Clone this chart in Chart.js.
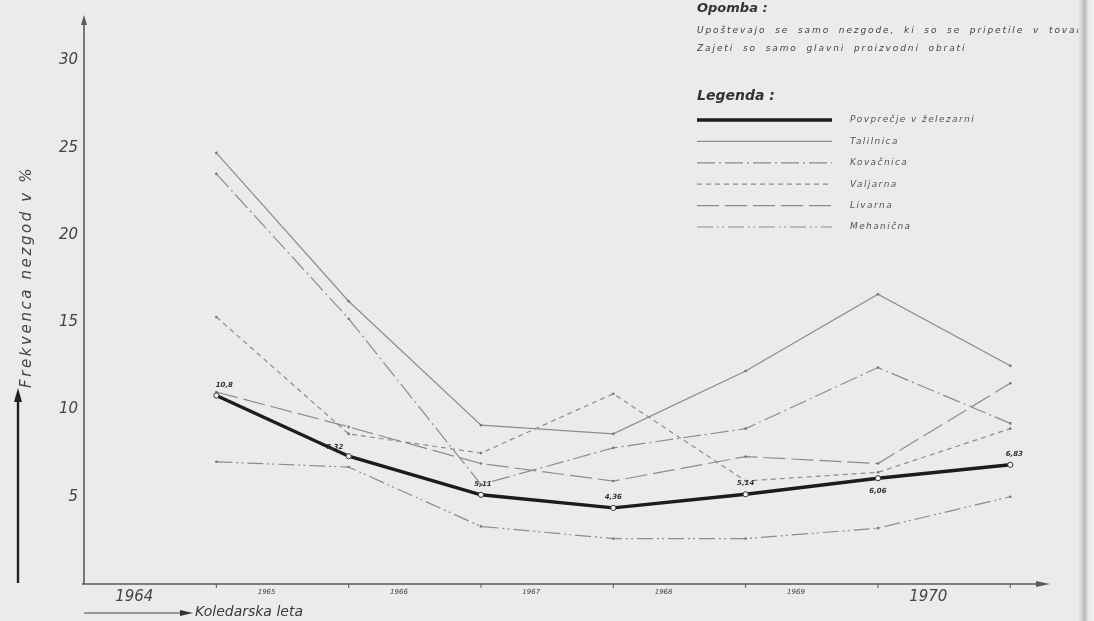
<!DOCTYPE html>
<html><head><meta charset="utf-8">
<script src="https://cdn.jsdelivr.net/npm/chart.js@4.4.1/dist/chart.umd.min.js"></script>
<style>
html,body{margin:0;padding:0;background:#ebebe9;}
#wrap{position:relative;width:1094px;height:621px;overflow:hidden;background:#ebebe9;}
canvas{position:absolute;left:0;top:0;}
.t{position:absolute;font-family:"DejaVu Sans",sans-serif;font-style:italic;color:#444;white-space:nowrap;}
#edge{position:absolute;left:1078px;top:0;width:16px;height:621px;background:linear-gradient(to right,#ebebe9 0px,#d0d0ce 4px,#b8b8b6 7px,#e6e6e4 10px,#f3f3f1 16px);}
</style></head><body>
<div id="wrap"><canvas id="c" width="1094" height="621"></canvas>
<div class="t" style="left:697px;top:0px;font-size:13px;font-weight:bold;color:#333;">Opomba :</div>
<div class="t" style="left:697px;top:25px;font-size:9px;letter-spacing:1.9px;word-spacing:4px;">Upoštevajo se samo nezgode, ki so se pripetile v tovarni</div>
<div class="t" style="left:697px;top:43px;font-size:9px;letter-spacing:1.9px;word-spacing:4px;">Zajeti so samo glavni proizvodni obrati</div>
<div class="t" style="left:697px;top:87px;font-size:14px;font-weight:bold;color:#333;">Legenda :</div>
<div id="edge"></div>
</div>
<script>
// ---- data ----
const YEARS = ['1964','1965','1966','1967','1968','1969','1970'];
const YEAR_VALUES = [1964,1965,1966,1967,1968,1969,1970];
const Y_TICKS = [5,10,15,20,25,30];
const SERIES_NAMES = ['Povprečje v železarni','Talilnica','Kovačnica','Valjarna','Livarna','Mehanična'];
const povprecje = [10.8, 7.32, 5.11, 4.36, 5.14, 6.06, 6.83];
const talilnica = [24.7, 16.2, 9.1, 8.6, 12.2, 16.6, 12.5];
const kovacnica = [23.5, 15.2, 5.7, 7.8, 8.9, 12.4, 9.2];
const valjarna  = [15.3, 8.6, 7.5, 10.9, 5.9, 6.4, 8.9];
const livarna   = [11.0, 9.0, 6.9, 5.9, 7.3, 6.9, 11.5];
const mehanicna = [7.0, 6.7, 3.3, 2.6, 2.6, 3.2, 5.0];
const AVG_LABELS = ['10,8','7,32','5,11','4,36','5,14','6,06','6,83'];

const FONT = '"DejaVu Sans", sans-serif';
const GRAY = '#8c8c8c';
const toPts = arr => arr.map((v,i)=>({x:YEAR_VALUES[i], y:v}));

function thin(label, data, dash){
  return {label, data: toPts(data), borderColor: GRAY, borderWidth: 1.2, borderDash: dash,
    pointRadius: 1.3, pointBackgroundColor: '#777', pointBorderWidth: 0, tension: 0, fill:false};
}

const datasets = [
  {label: SERIES_NAMES[0], data: toPts(povprecje), borderColor:'#1c1c1c', borderWidth:3.4, borderDash:[],
   pointRadius:2.6, pointBackgroundColor:'#f4f4f2', pointBorderColor:'#333', pointBorderWidth:1, tension:0, fill:false, order:0},
  thin(SERIES_NAMES[1], talilnica, []),
  thin(SERIES_NAMES[2], kovacnica, [18,4,2,4]),
  thin(SERIES_NAMES[3], valjarna, [5,4]),
  thin(SERIES_NAMES[4], livarna, [22,6]),
  thin(SERIES_NAMES[5], mehanicna, [16,4,2,3,2,4])
];

const LABEL_OFFSETS = [[8,-10],[-14,-9],[2,-11],[0,-11],[0,-11],[0,13],[4,-11]];

const decor = {
  id:'decor',
  beforeDatasetsDraw(chart){
    const {ctx, chartArea:a, scales:{x}} = chart;
    ctx.save();
    ctx.strokeStyle='#5a5a5a'; ctx.fillStyle='#5a5a5a'; ctx.lineWidth=1.6;
    // y axis
    ctx.beginPath(); ctx.moveTo(a.left, a.bottom); ctx.lineTo(a.left, a.top+6); ctx.stroke();
    ctx.beginPath(); ctx.moveTo(a.left, a.top); ctx.lineTo(a.left-3, a.top+10); ctx.lineTo(a.left+3, a.top+10); ctx.closePath(); ctx.fill();
    // x axis
    ctx.beginPath(); ctx.moveTo(a.left-2, a.bottom); ctx.lineTo(a.right-8, a.bottom); ctx.stroke();
    ctx.beginPath(); ctx.moveTo(a.right, a.bottom); ctx.lineTo(a.right-14, a.bottom-3); ctx.lineTo(a.right-14, a.bottom+3); ctx.closePath(); ctx.fill();
    // year-end tick marks
    ctx.lineWidth=1;
    YEAR_VALUES.forEach(v=>{const px=x.getPixelForValue(v); ctx.beginPath(); ctx.moveTo(px,a.bottom); ctx.lineTo(px,a.bottom+4); ctx.stroke();});
    // y title arrow
    ctx.lineWidth=2.4; ctx.strokeStyle='#222'; ctx.fillStyle='#222';
    ctx.beginPath(); ctx.moveTo(18, 583); ctx.lineTo(18, 400); ctx.stroke();
    ctx.beginPath(); ctx.moveTo(18, 388); ctx.lineTo(14, 402); ctx.lineTo(22, 402); ctx.closePath(); ctx.fill();
    // y title
    ctx.save(); ctx.translate(27, 277); ctx.rotate(-Math.PI/2);
    ctx.font = 'italic 15px '+FONT; ctx.fillStyle='#444'; ctx.textAlign='center'; ctx.textBaseline='middle';
    if (ctx.letterSpacing !== undefined) ctx.letterSpacing='2.6px';
    ctx.fillText('Frekvenca nezgod v %', 0, 0); ctx.restore();
    // x title arrow
    ctx.lineWidth=1.2; ctx.strokeStyle='#444'; ctx.fillStyle='#333';
    ctx.beginPath(); ctx.moveTo(84, 613); ctx.lineTo(184, 613); ctx.stroke();
    ctx.beginPath(); ctx.moveTo(193, 613); ctx.lineTo(180, 610); ctx.lineTo(180, 616); ctx.closePath(); ctx.fill();
    ctx.font = 'italic 14px '+FONT; ctx.fillStyle='#3a3a3a'; ctx.textAlign='left'; ctx.textBaseline='middle';
    ctx.fillText('Koledarska leta', 195, 612);
    ctx.restore();
  },
  afterDatasetsDraw(chart){
    const {ctx} = chart;
    ctx.save();
    // labels on the average line
    const meta = chart.getDatasetMeta(0);
    ctx.font = 'italic bold 7px '+FONT; ctx.fillStyle='#333'; ctx.textAlign='center'; ctx.textBaseline='middle';
    meta.data.forEach((pt,i)=>{ const o=LABEL_OFFSETS[i]; ctx.fillText(AVG_LABELS[i], pt.x+o[0], pt.y+o[1]); });
    // legend
    const x0=697, x1=832, yStart=120, step=21.4;
    chart.data.datasets.forEach((ds,i)=>{
      const yy = yStart + i*step;
      ctx.save();
      ctx.strokeStyle = ds.borderColor; ctx.lineWidth = ds.borderWidth; ctx.setLineDash(ds.borderDash||[]);
      ctx.beginPath(); ctx.moveTo(x0,yy); ctx.lineTo(x1,yy); ctx.stroke();
      ctx.restore();
      ctx.font='italic 9px '+FONT; ctx.fillStyle='#555'; ctx.textAlign='left'; ctx.textBaseline='middle';
      if (ctx.letterSpacing !== undefined) ctx.letterSpacing='1.4px';
      ctx.fillText(ds.label, 850, yy);
    });
    ctx.restore();
  }
};

new Chart(document.getElementById('c'), {
  type:'line',
  data:{datasets},
  options:{
    responsive:false, animation:false, devicePixelRatio:1,
    layout:{padding:{left:0, top:13, right:44, bottom:0}},
    plugins:{legend:{display:false}, tooltip:{enabled:false}, title:{display:false}},
    scales:{
      x:{type:'linear', min:1963, max:1970.3,
        afterBuildTicks: s => { s.ticks = YEAR_VALUES.map(v=>({value: v-0.62})); },
        ticks:{ autoSkip:false, maxRotation:0, padding:4, color:'#444',
          callback:(v,i)=>YEARS[i],
          font: c => (c.index===0 || c.index===YEARS.length-1) ? {family:FONT, size:15, style:'italic'} : {family:FONT, size:7, style:'italic'} },
        grid:{display:false, drawTicks:false}, border:{display:false},
        afterFit: s => { s.height = 37; }
      },
      y:{min:0, max:32.6,
        afterBuildTicks: s => { s.ticks = Y_TICKS.map(v=>({value:v})); },
        ticks:{ padding:6, color:'#444', font:{family:FONT, size:15, style:'italic'} },
        grid:{display:false, drawTicks:false}, border:{display:false},
        afterFit: s => { s.width = 84; }
      }
    }
  },
  plugins:[decor]
});
</script>
</body></html>
